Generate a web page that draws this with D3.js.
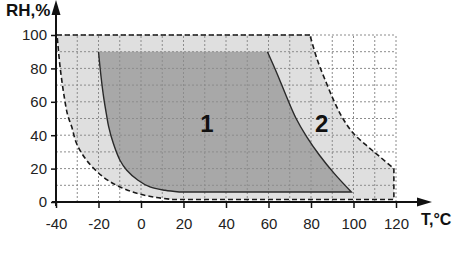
<!DOCTYPE html>
<html>
<head>
<meta charset="utf-8">
<script src="https://cdn.jsdelivr.net/npm/d3@7"></script>
<style>
  body { margin: 0; background: #fff; }
  svg { display: block; font-family: "Liberation Sans", Arial, sans-serif; }
</style>
</head>
<body>
<div id="chart"></div>
<script>
const xTicks = [-40, -20, 0, 20, 40, 60, 80, 100, 120];
const yTicks = [0, 20, 40, 60, 80, 100];
const xGrid = d3.range(-40, 121, 10);
const yGrid = d3.range(0, 101, 10);

// zone 2 (outer, dashed border) - edges as [T, RH]
const zone2Top = [[79.5, 100], [-39.5, 100]];
const zone2Left = [[-39.5, 100], [-38, 80], [-36, 62], [-34.5, 52], [-32.6, 45], [-30.3, 35], [-25.6, 25], [-17.8, 15], [-9.9, 9], [-1.4, 5], [7.4, 2.7], [15, 1.5]];
const zone2Bottom = [[15, 1.5], [119, 1.5], [119, 20]];
const zone2Right = [[119, 20], [112.5, 27], [106, 34], [100, 41], [95, 50], [91, 60], [87, 72], [83, 85], [79.5, 100]];

// zone 1 (inner, solid border)
const zone1Top = [[59.5, 90], [-20, 90]];
const zone1Left = [[-20, 90], [-18.8, 75], [-17.5, 62], [-16.2, 52], [-15.2, 45], [-13, 35], [-9.9, 25], [-6.7, 19], [-1.4, 13], [4.2, 9], [11.3, 7], [18, 6]];
const zone1Bottom = [[18, 6], [99, 6]];
const zone1Right = [[99, 6], [91, 17], [84, 28], [78, 39], [73, 50], [68.5, 63], [64, 77], [59.5, 90]];

const zoneLabels = [{ text: "1", t: 31, rh: 47 }, { text: "2", t: 85, rh: 47 }];

const W = 459, H = 253;
const x = d3.scaleLinear().domain([-40, 120]).range([56, 396]);
const y = d3.scaleLinear().domain([0, 100]).range([202, 35]);

const svg = d3.select("#chart").append("svg").attr("width", W).attr("height", H);

const straight = d3.line().x(d => x(d[0])).y(d => y(d[1]));
const curved = d3.line().x(d => x(d[0])).y(d => y(d[1])).curve(d3.curveCatmullRom.alpha(0.5));

// join several edges into one path
function joinPath(parts) {
  return parts.map((p, i) => {
    const s = p[1](p[0]);
    return i === 0 ? s : s.replace(/^M/, "L");
  }).join("");
}

const zone2Path = joinPath([[zone2Top, straight], [zone2Left, curved], [zone2Bottom, straight], [zone2Right, curved]]);
const zone1Outline = joinPath([[zone1Left, curved], [zone1Bottom, straight], [zone1Right, curved]]);
const zone1Path = joinPath([[zone1Top, straight], [zone1Left, curved], [zone1Bottom, straight], [zone1Right, curved]]);

svg.append("path").attr("d", zone2Path + "Z").attr("fill", "#dfdfdf");
svg.append("path").attr("d", zone1Path + "Z").attr("fill", "#a8a8a8");

// dotted grid
const grid = svg.append("g").attr("stroke", "#8c8c8c").attr("stroke-width", 1).attr("stroke-dasharray", "2,2");
grid.selectAll("line.v").data(xGrid).join("line").attr("class", "v")
  .attr("x1", d => x(d)).attr("x2", d => x(d)).attr("y1", y(0)).attr("y2", y(100));
grid.selectAll("line.h").data(yGrid).join("line").attr("class", "h")
  .attr("x1", x(-40)).attr("x2", x(120)).attr("y1", d => y(d)).attr("y2", d => y(d));

// borders
svg.append("path").attr("d", zone2Path).attr("fill", "none")
  .attr("stroke", "#1a1a1a").attr("stroke-width", 1.6).attr("stroke-dasharray", "5,3");
svg.append("path").attr("d", zone1Outline).attr("fill", "none")
  .attr("stroke", "#2a2a2a").attr("stroke-width", 1.4);

// axes (plain hyphen for negatives, like the original)
const xAxis = d3.axisBottom(x).tickValues(xTicks).tickFormat(d => String(d))
  .tickSize(6).tickSizeOuter(0).tickPadding(10);
const yAxis = d3.axisLeft(y).tickValues(yTicks).tickFormat(d => String(d))
  .tickSize(5).tickSizeOuter(0).tickPadding(4);

const gx = svg.append("g").attr("transform", `translate(0,${y(0)})`).call(xAxis);
const gy = svg.append("g").attr("transform", `translate(${x(-40)},0)`).call(yAxis);
[gx, gy].forEach(g => {
  g.select(".domain").remove();
  g.selectAll(".tick line").attr("stroke", "#111").attr("stroke-width", 1.5);
  g.selectAll(".tick text").attr("fill", "#222").style("font-size", "15px")
    .style("font-family", "'Liberation Sans', Arial, sans-serif");
});

svg.append("line").attr("x1", x(-40)).attr("x2", x(-40)).attr("y1", 206).attr("y2", 10)
  .attr("stroke", "#111").attr("stroke-width", 2);
svg.append("path").attr("d", `M${x(-40)},0L${x(-40) - 4.5},15L${x(-40) + 4.5},15Z`).attr("fill", "#111");
svg.append("line").attr("x1", 52).attr("x2", 424).attr("y1", y(0)).attr("y2", y(0))
  .attr("stroke", "#111").attr("stroke-width", 2);
svg.append("path").attr("d", `M432,${y(0)}L417,${y(0) - 4.5}L417,${y(0) + 4.5}Z`).attr("fill", "#111");

svg.append("text").attr("x", 6).attr("y", 16).attr("font-size", 17).attr("font-weight", "bold")
  .attr("fill", "#111").text("RH,%");
svg.append("text").attr("x", 421).attr("y", 225).attr("font-size", 16).attr("font-weight", "bold")
  .attr("fill", "#111").text("T,°C");

svg.selectAll("text.zone").data(zoneLabels).join("text").attr("class", "zone")
  .attr("x", d => x(d.t)).attr("y", d => y(d.rh) + 8)
  .attr("text-anchor", "middle").attr("font-size", 24).attr("font-weight", "bold")
  .attr("fill", "#111").text(d => d.text);
</script>
</body>
</html>
